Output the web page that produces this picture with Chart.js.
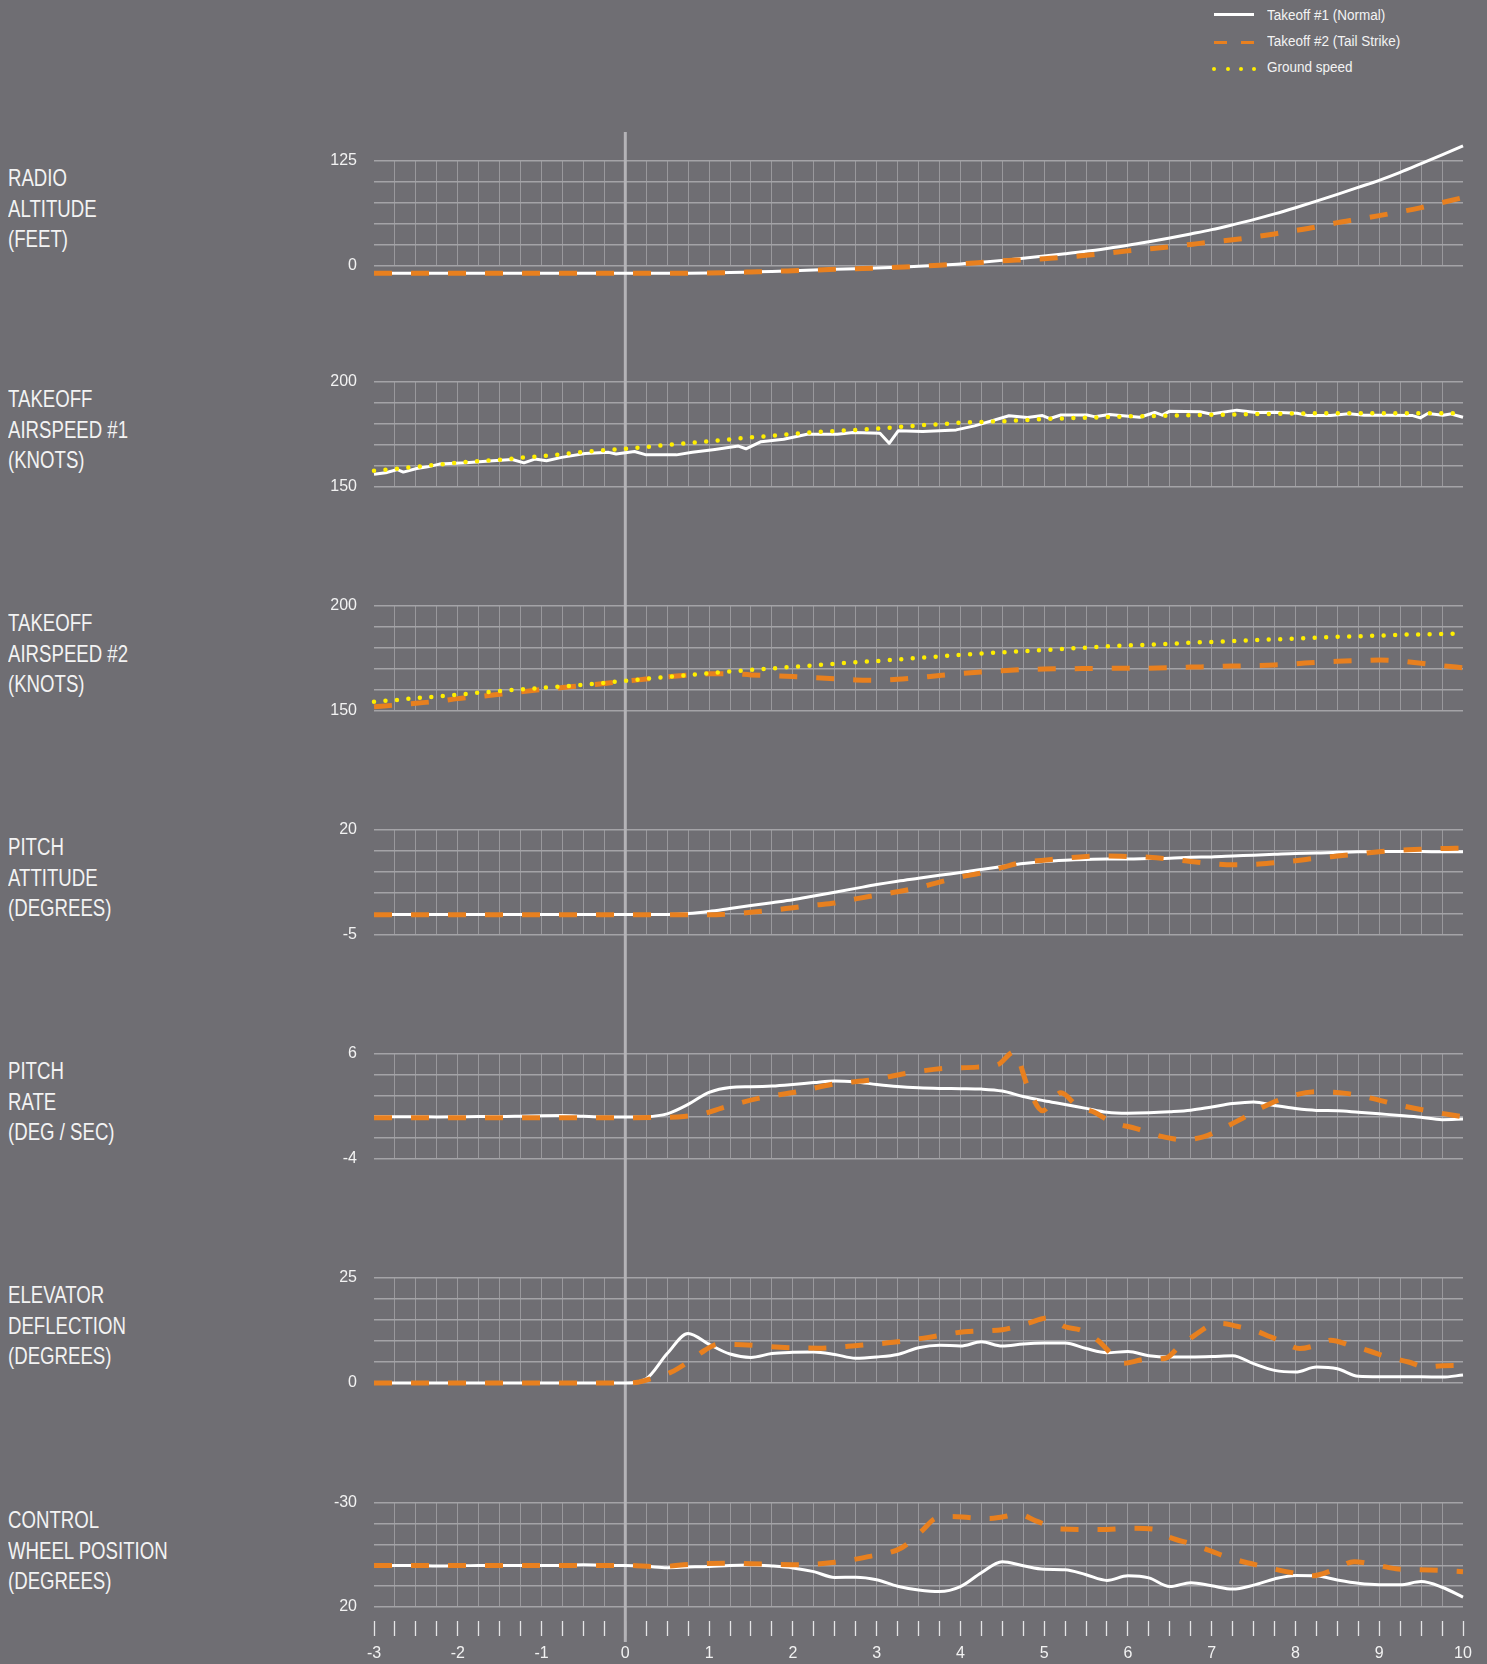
<!DOCTYPE html>
<html>
<head>
<meta charset="utf-8">
<script src="https://cdn.jsdelivr.net/npm/chart.js@4.4.1/dist/chart.umd.min.js"></script>
<style>
  html, body { margin: 0; padding: 0; background: #6f6e73; }
  body { width: 1487px; height: 1664px; position: relative; overflow: hidden; }
  canvas { position: absolute; left: 0; }
  .title {
    position: absolute; left: 8px; color: #f3f3f3; white-space: nowrap;
    font-family: "Liberation Sans", Arial, sans-serif;
    font-size: 24.5px; line-height: 30.5px;
    transform: scaleX(0.76); transform-origin: 0 0;
  }
  .leg {
    position: absolute; left: 1267px; color: #f3f3f3; white-space: nowrap;
    font-family: "Liberation Sans", Arial, sans-serif;
    font-size: 15.5px; line-height: 18px;
    transform: scaleX(0.87); transform-origin: 0 0;
  }
  .mk { position: absolute; }
</style>
</head>
<body>
<div class="mk" style="left:1214px;top:12.5px;width:40px;height:3px;background:#fff"></div>
<div class="mk" style="left:1214px;top:40.5px;width:40px;height:3px;background:linear-gradient(to right,#e8801f 0 13px,transparent 13px 27px,#e8801f 27px 40px)"></div>
<div class="mk" style="left:1212px;top:66.5px;width:4px;height:4px;border-radius:2px;background:#ffee00"></div>
<div class="mk" style="left:1226px;top:66.5px;width:4px;height:4px;border-radius:2px;background:#ffee00"></div>
<div class="mk" style="left:1239px;top:66.5px;width:4px;height:4px;border-radius:2px;background:#ffee00"></div>
<div class="mk" style="left:1252px;top:66.5px;width:4px;height:4px;border-radius:2px;background:#ffee00"></div>
<div class="leg" style="top:5.6px">Takeoff #1 (Normal)</div>
<div class="leg" style="top:32.3px">Takeoff #2 (Tail Strike)</div>
<div class="leg" style="top:58.3px">Ground speed</div>

<script>
// time axis (seconds)
const xTicks = [-3,-2.75,-2.5,-2.25,-2,-1.75,-1.5,-1.25,-1,-0.75,-0.5,-0.25,0,0.25,0.5,0.75,1,1.25,1.5,1.75,2,2.25,2.5,2.75,3,3.25,3.5,3.75,4,4.25,4.5,4.75,5,5.25,5.5,5.75,6,6.25,6.5,6.75,7,7.25,7.5,7.75,8,8.25,8.5,8.75,9,9.25,9.5,9.75,10];
const t = xTicks;

// radio altitude (feet)
const radioAlt1 = [-8.7,-8.7,-8.7,-8.7,-8.7,-8.7,-8.7,-8.7,-8.7,-8.7,-8.7,-8.7,-8.7,
  -8.7,-8.7,-8.6,-8.3,-7.8,-7.1,-6.4,-5.6,-4.8,-4.0,-3.2,-2.4,-1.4,
  -0.4,0.9,2.4,4.4,6.7,9.2,11.9,14.6,17.5,20.9,24.6,28.8,33.3,
  38.2,43.3,49.1,55.2,62.0,69.4,77.2,85.3,93.6,102.0,111.5,121.8,132.2,
  142.9];
const radioAlt2 = [-8.7,-8.7,-8.7,-8.7,-8.7,-8.7,-8.7,-8.7,-8.7,-8.7,-8.7,-8.7,-8.7,
  -8.7,-8.7,-8.6,-8.3,-7.8,-7.1,-6.4,-5.6,-4.8,-4.0,-3.2,-2.4,-1.4,
  -0.4,0.9,2.4,4.3,6.2,7.4,8.5,10.5,12.7,15.3,18.0,20.4,22.9,
  25.7,28.5,31.2,34.5,38.2,42.2,46.5,51.6,55.7,60.0,64.5,69.5,75.5,
  81.5];

// takeoff #1 airspeed (knots)
const airspeed1Time = [-3.0,-2.86,-2.72,-2.65,-2.49,-2.36,-2.22,-1.90,-1.58,-1.35,-1.21,-1.08,-0.94,-0.76,-0.48,-0.20,-0.11,0.11,0.25,0.61,0.80,1.07,1.35,1.44,1.62,1.89,2.17,2.53,2.72,3.04,3.15,3.26,3.55,3.95,4.17,4.58,4.80,4.98,5.07,5.20,5.51,5.60,5.78,6.14,6.32,6.41,6.50,6.86,6.99,7.30,7.53,7.75,8.02,8.15,8.42,8.64,8.82,9.09,9.40,9.49,9.58,9.76,9.85,10.0];
const airspeed1 = [156.1,156.8,158.3,157.1,158.8,159.6,160.9,161.5,162.5,163.1,161.5,163.3,162.5,164.1,166.0,166.5,165.7,166.9,165.3,165.3,166.5,167.9,169.5,168.2,171.6,172.7,175.1,175.1,175.9,175.6,170.8,176.8,176.4,177.2,179.1,183.9,183.1,184.0,182.6,184.3,184.3,183.5,184.5,183.2,185.5,184.2,186.1,185.8,184.8,186.6,185.5,185.6,185.1,184.0,184.0,184.9,184.2,184.2,184.0,182.9,185.0,184.2,184.8,183.2];
const groundSpeed1 = [157.7,158.6,159.6,160.6,161.6,162.3,163.0,163.9,164.7,165.6,166.7,167.5,168.2,
  169.1,170.0,170.9,171.8,172.7,173.6,174.4,175.3,176.1,176.6,177.2,177.8,178.5,
  179.3,179.9,180.6,181.0,181.3,181.8,182.4,182.7,183.0,183.3,183.6,183.8,184.0,
  184.2,184.4,184.5,184.7,184.8,185.0,185.1,185.1,185.1,185.1,185.1,185.1,185.1,
  185.1];

// takeoff #2 airspeed (knots)
const airspeed2 = [152.0,152.8,153.7,154.6,155.9,156.9,158.0,159.1,160.2,161.2,162.1,163.1,164.2,
  165.2,166.3,167.1,167.7,167.8,167.2,166.8,166.4,165.9,165.4,164.8,164.7,165.1,
  165.9,166.9,167.8,168.6,169.2,169.7,170.0,170.1,170.2,170.3,170.3,170.4,170.6,
  170.9,171.1,171.4,171.6,171.9,172.5,173.2,173.7,174.0,174.3,173.8,172.7,171.6,
  170.6];
const groundSpeed2 = [154.4,155.2,156.1,156.9,157.8,158.7,159.5,160.3,161.0,161.7,162.5,163.4,164.4,
  165.3,166.2,167.1,168.0,168.8,169.6,170.3,171.0,171.7,172.5,173.2,173.8,174.5,
  175.3,176.0,176.7,177.4,177.9,178.5,179.0,179.6,180.2,180.8,181.2,181.6,182.0,
  182.5,182.9,183.3,183.7,184.1,184.5,184.9,185.3,185.6,185.9,186.3,186.5,186.7,
  186.8];

// pitch attitude (degrees)
const pitch1 = [-0.1,-0.1,-0.1,-0.1,-0.1,-0.1,-0.1,-0.1,-0.1,-0.1,-0.1,-0.1,-0.1,
  -0.1,-0.1,0.1,0.6,1.3,2.0,2.7,3.4,4.3,5.2,6.1,7.0,7.8,
  8.5,9.2,9.9,10.6,11.3,12.0,12.5,12.8,13.0,13.1,13.1,13.2,13.3,
  13.5,13.6,13.8,14.0,14.2,14.4,14.5,14.7,14.8,14.9,14.9,14.9,14.8,
  14.8];
const pitch2 = [-0.2,-0.2,-0.2,-0.2,-0.2,-0.2,-0.2,-0.2,-0.2,-0.2,-0.2,-0.2,-0.2,
  -0.2,-0.2,-0.2,-0.2,0.0,0.4,0.9,1.5,2.1,2.6,3.6,4.5,5.3,
  6.3,7.6,8.8,9.8,11.1,12.3,12.8,13.3,13.7,13.8,13.7,13.5,13.1,
  12.5,12.0,11.7,11.8,12.2,12.7,13.3,13.8,14.3,14.8,15.2,15.4,15.6,
  15.7];

// pitch rate (deg / sec)
const rate1 = [0.02,0.02,0.02,0.01,0.02,0.05,0.05,0.08,0.12,0.14,0.06,0.0,0.0,
  0.03,0.3,1.2,2.35,2.82,2.88,2.95,3.1,3.28,3.44,3.34,3.1,2.9,
  2.78,2.72,2.7,2.66,2.47,1.95,1.55,1.2,0.82,0.45,0.36,0.4,0.5,
  0.65,0.96,1.28,1.44,1.1,0.8,0.63,0.6,0.45,0.3,0.15,-0.02,-0.25,
  -0.2];
const rate2Time = [-3,-2,-1,0,0.4,0.7,0.95,1.15,1.6,2.05,2.5,2.95,3.35,3.8,4.2,4.45,4.64,4.8,4.98,5.2,5.4,5.6,5.8,6.1,6.4,6.65,6.9,7.1,7.35,7.6,7.85,8.25,8.6,8.9,9.2,9.6,10];
const rate2 = [-0.06,-0.06,-0.06,-0.08,-0.04,0.05,0.35,0.85,1.8,2.4,3.15,3.55,4.15,4.63,4.75,5.0,6.2,3.0,0.6,2.3,1.0,0.45,-0.45,-1.1,-1.85,-2.15,-1.9,-1.2,-0.2,0.9,1.75,2.4,2.25,1.8,1.2,0.55,0.03];

// elevator deflection (degrees)
const elev1 = [0,0,0,0,0,0,0,0,0,0,0,0,0,
  1.0,7.0,11.8,9.2,6.9,6.1,7.0,7.3,7.4,6.8,5.9,6.2,6.8,
  8.4,9.0,8.8,9.8,8.8,9.3,9.5,9.5,8.2,7.2,7.5,6.5,6.2,
  6.2,6.3,6.5,4.6,3.0,2.6,3.8,3.4,1.6,1.5,1.5,1.5,1.4,
  1.9];
const elev2Time = [-3,-2,-1,0,0.15,0.3,0.55,0.75,0.95,1.1,1.4,1.85,2.3,2.8,3.2,3.6,4.05,4.5,4.8,5.05,5.25,5.45,5.65,5.8,5.95,6.2,6.45,6.6,6.8,7.0,7.12,7.3,7.5,7.7,7.85,8.05,8.25,8.42,8.65,8.9,9.1,9.35,9.55,9.75,10];
const elev2 = [0,0,0,0,0.2,1.0,2.6,5.0,7.8,9.2,9.1,8.5,8.3,9.0,9.7,10.8,12.2,12.7,14.2,15.5,13.4,12.5,10.0,7.0,4.7,5.6,5.9,8.4,11.4,13.9,14.2,13.5,12.6,11.0,9.8,8.2,9.0,10.2,9.0,7.5,6.2,5.0,3.8,4.1,4.2];

// control wheel position (degrees)
const wheel1 = [0.2,0,0,0.3,0.2,0,0,0,0,0,-0.3,0,0,
  0.4,1.1,0.8,0.5,0.0,-0.2,0.3,1.2,3.0,5.8,5.7,6.9,10.0,
  11.8,12.6,10.2,3.5,-1.8,0.2,1.9,2.1,4.5,7.2,5.0,6.0,10.2,
  8.3,9.8,11.4,9.5,6.5,4.8,5.0,7.0,8.6,9.3,9.3,7.8,10.5,
  15.2];
const wheel2Time = [-3,-2,-1,0,0.4,0.8,1.25,1.65,2.1,2.5,2.9,3.3,3.55,3.7,3.9,4.1,4.35,4.5,4.7,4.9,5.2,5.5,5.75,6.05,6.3,6.5,6.8,7.2,7.6,8.0,8.2,8.45,8.7,8.9,9.2,9.6,10];
const wheel2 = [0,0,0,0,0.6,-0.6,-1.0,-0.6,-0.3,-1.5,-4.2,-8.5,-17.0,-22.5,-23.5,-23.0,-22.5,-23.3,-24.6,-21.4,-17.5,-17.3,-17.3,-17.9,-17.5,-13.5,-9.8,-3.8,0.4,3.8,5.0,2.2,-1.8,-0.7,1.6,2.2,3.0];

// y axis grid values per panel
const yTicks = [
  [0, 25, 50, 75, 100, 125],
  [150, 160, 170, 180, 190, 200],
  [150, 160, 170, 180, 190, 200],
  [-5, 0, 5, 10, 15, 20],
  [-4, -2, 0, 2, 4, 6],
  [0, 5, 10, 15, 20, 25],
  [-30, -20, -10, 0, 10, 20]
];
const titles = [
  ['RADIO', 'ALTITUDE', '(FEET)'],
  ['TAKEOFF', 'AIRSPEED #1', '(KNOTS)'],
  ['TAKEOFF', 'AIRSPEED #2', '(KNOTS)'],
  ['PITCH', 'ATTITUDE', '(DEGREES)'],
  ['PITCH', 'RATE', '(DEG / SEC)'],
  ['ELEVATOR', 'DEFLECTION', '(DEGREES)'],
  ['CONTROL', 'WHEEL POSITION', '(DEGREES)']
];

// page layout
const panelTops = [161, 382, 606, 830, 1054, 1278, 1503];
const panelH = 105;
const canvasEdges = [132, 324, 546, 770, 994, 1218, 1442, 1664];
const zeroLineEnd = 1642;

const WHITE = '#ffffff', ORANGE = '#e8801f', YELLOW = '#ffee00';
const GRID_H = '#a4a3a7', GRID_V = '#99989c';

Chart.defaults.font.family = '"Liberation Sans", Arial, sans-serif';
Chart.defaults.font.size = 16;
Chart.defaults.color = '#f2f2f2';

function pts(times, values) {
  return times.map((x, i) => ({ x: x, y: values[i] }));
}
function whiteLine(data, smooth) {
  return { data: data, borderColor: WHITE, borderWidth: 3, clip: false,
    cubicInterpolationMode: smooth ? 'monotone' : 'default', tension: 0, borderJoinStyle: 'round' };
}
function orangeLine(data) {
  return { data: data, borderColor: ORANGE, borderWidth: 5, borderDash: [18, 19], clip: false,
    cubicInterpolationMode: 'monotone' };
}
function yellowLine(data) {
  return { data: data, borderColor: YELLOW, borderWidth: 4.5, borderDash: [0, 11.5],
    borderCapStyle: 'round', clip: false, cubicInterpolationMode: 'monotone' };
}

// first dataset is drawn on top
const panelData = [
  [orangeLine(pts(t, radioAlt2)), whiteLine(pts(t, radioAlt1), true)],
  [yellowLine(pts(t, groundSpeed1)), whiteLine(pts(airspeed1Time, airspeed1), false)],
  [yellowLine(pts(t, groundSpeed2)), orangeLine(pts(t, airspeed2))],
  [orangeLine(pts(t, pitch2)), whiteLine(pts(t, pitch1), true)],
  [orangeLine(pts(rate2Time, rate2)), whiteLine(pts(t, rate1), true)],
  [orangeLine(pts(elev2Time, elev2)), whiteLine(pts(t, elev1), true)],
  [orangeLine(pts(wheel2Time, wheel2)), whiteLine(pts(t, wheel1), true)]
];

const zeroLine = {
  id: 'zeroLine',
  beforeDatasetsDraw(chart, args, opts) {
    const x = chart.scales.x.getPixelForValue(0);
    const ctx = chart.ctx;
    ctx.save();
    ctx.strokeStyle = '#b4b3b7';
    ctx.lineWidth = 3;
    ctx.beginPath();
    ctx.moveTo(x, 0);
    ctx.lineTo(x, opts.bottom || chart.height);
    ctx.stroke();
    ctx.restore();
  }
};

titles.forEach((lines, i) => {
  const d = document.createElement('div');
  d.className = 'title';
  d.style.top = (panelTops[i] + 2.3) + 'px';
  d.innerHTML = lines.join('<br>');
  document.body.appendChild(d);
});

panelData.forEach((datasets, i) => {
  const top = canvasEdges[i];
  const h = canvasEdges[i + 1] - top;
  const last = i === panelData.length - 1;
  const c = document.createElement('canvas');
  c.width = 1487; c.height = h;
  c.style.top = top + 'px';
  c.style.width = '1487px'; c.style.height = h + 'px';
  document.body.appendChild(c);
  const ticks = yTicks[i];

  new Chart(c, {
    type: 'line',
    data: { datasets: datasets },
    options: {
      responsive: false,
      animation: false,
      events: [],
      layout: { padding: { left: 0, right: 24, top: panelTops[i] - top,
        bottom: last ? 0 : (top + h) - (panelTops[i] + panelH) } },
      elements: { point: { radius: 0 } },
      plugins: {
        legend: { display: false },
        tooltip: { enabled: false },
        zeroLine: { bottom: last ? zeroLineEnd - top : h }
      },
      scales: {
        x: {
          type: 'linear', min: -3, max: 10,
          afterBuildTicks: s => { s.ticks = xTicks.map(v => ({ value: v })); },
          afterFit: s => { s.height = last ? 57 : 0; },
          border: { display: false },
          grid: {
            color: ctx => (ctx.tick && (ctx.tick.value === -3 || ctx.tick.value === 10)) ? 'rgba(0,0,0,0)' : GRID_V,
            lineWidth: 1,
            drawTicks: last,
            tickLength: 29,
            tickColor: '#e4e4e6',
            tickWidth: 1.3,
            tickBorderDash: [0, 14, 15, 100]
          },
          ticks: {
            display: last, autoSkip: false, maxRotation: 0, padding: 8,
            callback: v => Number.isInteger(v) ? String(v) : ''
          }
        },
        y: {
          min: ticks[0], max: ticks[ticks.length - 1], reverse: i === 6,
          afterBuildTicks: s => { s.ticks = ticks.map(v => ({ value: v })); },
          afterFit: s => { s.width = 374; },
          border: { display: false },
          grid: { color: GRID_H, lineWidth: 1.5, drawTicks: false },
          ticks: {
            padding: 17, autoSkip: false,
            callback: (v, idx, arr) => (idx === 0 || idx === arr.length - 1) ? String(v) : ''
          }
        }
      }
    },
    plugins: [zeroLine]
  });
});
</script>
</body>
</html>
